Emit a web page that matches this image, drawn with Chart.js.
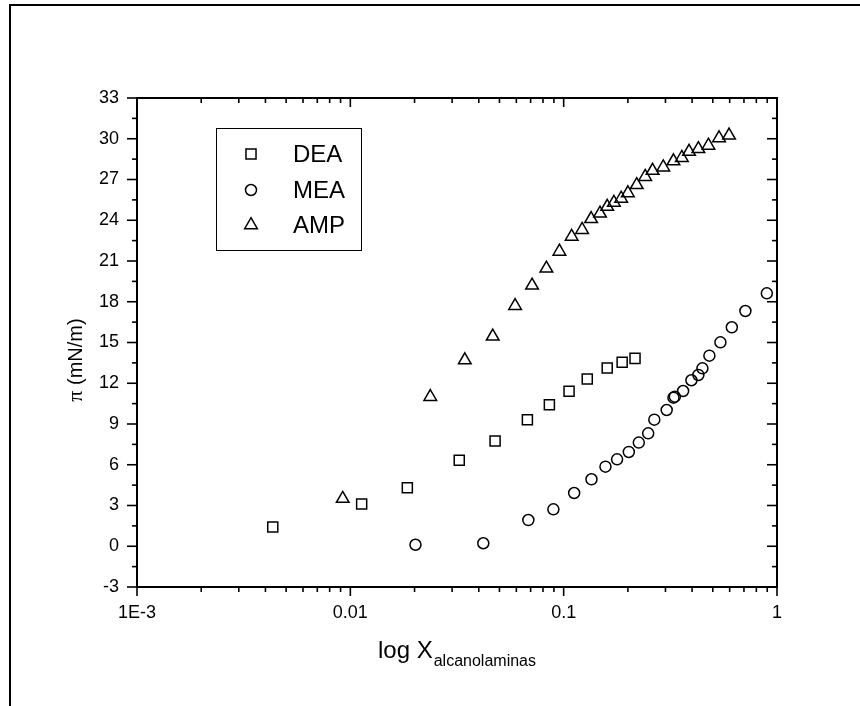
<!DOCTYPE html>
<html>
<head>
<meta charset="utf-8">
<script src="https://cdn.jsdelivr.net/npm/chart.js@4/dist/chart.umd.min.js"></script>
<style>
  html, body { margin: 0; padding: 0; background: #fff; }
  #wrap { width: 860px; height: 706px; position: relative; }
</style>
</head>
<body>
<div id="wrap"><canvas id="c" width="860" height="706"></canvas></div>
<script>
// Surface pressure of alkanolamine solutions vs. mole fraction (log scale)
const seriesNames = ['DEA', 'MEA', 'AMP'];

const deaX = [0.00433, 0.0113, 0.0185, 0.0324, 0.0477, 0.0676, 0.0857, 0.106, 0.129, 0.160, 0.188, 0.216];
const deaY = [1.42, 3.11, 4.31, 6.33, 7.75, 9.32, 10.42, 11.41, 12.31, 13.12, 13.54, 13.83];

const meaX = [0.0202, 0.0420, 0.0683, 0.0895, 0.112, 0.135, 0.157, 0.178, 0.202, 0.225, 0.249, 0.266,
              0.304, 0.327, 0.332, 0.363, 0.397, 0.428, 0.447, 0.482, 0.543, 0.614, 0.711, 0.896];
const meaY = [0.11, 0.22, 1.93, 2.72, 3.92, 4.93, 5.86, 6.40, 6.94, 7.63, 8.31, 9.32,
              10.03, 10.94, 11.01, 11.43, 12.22, 12.61, 13.10, 14.03, 15.01, 16.12, 17.32, 18.62];

const ampX = [0.00921, 0.0237, 0.0344, 0.0465, 0.0592, 0.0711, 0.083, 0.0955, 0.109, 0.122, 0.1345, 0.148,
              0.160, 0.172, 0.186, 0.200, 0.220, 0.241, 0.261, 0.293, 0.327, 0.358, 0.387, 0.428, 0.477, 0.535, 0.596];
const ampY = [3.5, 11.0, 13.7, 15.45, 17.7, 19.2, 20.45, 21.7, 22.8, 23.3, 24.1, 24.5,
              25.0, 25.3, 25.6, 26.0, 26.6, 27.2, 27.65, 27.9, 28.35, 28.6, 29.05, 29.25, 29.5, 30.05, 30.25];

const xDecades = [0.001, 0.01, 0.1, 1];
const xDecadeLabels = ['1E-3', '0.01', '0.1', '1'];
const yMin = -3, yMax = 33, yStep = 3;

const FONT = 'Arial, "Liberation Sans", sans-serif';

function toPoints(xs, ys) { return xs.map((x, i) => ({ x: x, y: ys[i] })); }

const markerStyles = [
  { pointStyle: 'rect', radius: 7.1 },
  { pointStyle: 'circle', radius: 5.5 },
  { pointStyle: 'triangle', radius: 7.3 }
];

function decadeLabel(v) {
  for (let i = 0; i < xDecades.length; i++) {
    if (Math.abs(Math.log10(v) - Math.log10(xDecades[i])) < 1e-9) return xDecadeLabels[i];
  }
  return null;
}

// Frame, mirrored axes, tick marks, legend and axis titles
const decorations = {
  id: 'decorations',
  afterDraw(chart) {
    const ctx = chart.ctx;
    const xs = chart.scales.x, ys = chart.scales.y;
    const a = chart.chartArea;
    ctx.save();
    ctx.strokeStyle = '#000';
    ctx.fillStyle = '#000';
    ctx.lineCap = 'butt';

    // outer frame (left and top edges)
    ctx.lineWidth = 2;
    ctx.beginPath();
    ctx.moveTo(10, 706); ctx.lineTo(10, 5); ctx.lineTo(860, 5);
    ctx.stroke();

    // top and right axis lines
    ctx.beginPath();
    ctx.moveTo(a.left - 1, a.top); ctx.lineTo(a.right, a.top); ctx.lineTo(a.right, a.bottom + 1);
    ctx.stroke();

    ctx.lineWidth = 1.6;
    const seg = (x1, y1, x2, y2) => { ctx.beginPath(); ctx.moveTo(x1, y1); ctx.lineTo(x2, y2); ctx.stroke(); };

    // x ticks: majors at decades, minors at 2..9
    for (let d = -3; d <= 0; d++) {
      const base = Math.pow(10, d);
      const px = xs.getPixelForValue(base);
      seg(px, a.bottom, px, a.bottom + 9);
      seg(px, a.top, px, a.top + 9);
      if (d < 0) {
        for (let m = 2; m <= 9; m++) {
          const p = xs.getPixelForValue(m * base);
          seg(p, a.bottom, p, a.bottom + 5);
          seg(p, a.top, p, a.top + 5);
        }
      }
    }
    // y ticks: majors every 3, minors halfway
    for (let v = yMin; v <= yMax + 1e-9; v += yStep) {
      const py = ys.getPixelForValue(v);
      seg(a.left, py, a.left - 10, py);
      seg(a.right, py, a.right - 10, py);
      if (v < yMax) {
        const pm = ys.getPixelForValue(v + yStep / 2);
        seg(a.left, pm, a.left - 5, pm);
        seg(a.right, pm, a.right - 5, pm);
      }
    }

    // legend
    ctx.lineWidth = 1;
    ctx.strokeRect(216.5, 128.5, 145, 122);
    const rowY = [154, 190, 225];
    seriesNames.forEach((name, i) => {
      ctx.lineWidth = 1.5;
      ctx.strokeStyle = '#000';
      ctx.fillStyle = 'rgba(0,0,0,0)';
      Chart.helpers.drawPoint(ctx, {
        pointStyle: markerStyles[i].pointStyle,
        radius: markerStyles[i].radius,
        rotation: 0,
        borderWidth: 1.5
      }, 251, rowY[i]);
      ctx.fillStyle = '#000';
      ctx.font = '24px ' + FONT;
      ctx.textAlign = 'left';
      ctx.textBaseline = 'middle';
      ctx.fillText(name, 293, rowY[i] + 1);
    });

    // x axis title with subscript
    ctx.fillStyle = '#000';
    ctx.textBaseline = 'alphabetic';
    ctx.font = '24px ' + FONT;
    const mainTxt = 'log X';
    const w1 = ctx.measureText(mainTxt).width;
    ctx.font = '16px ' + FONT;
    const subTxt = 'alcanolaminas';
    const w2 = ctx.measureText(subTxt).width;
    const cx = (a.left + a.right) / 2;
    const startX = cx - (w1 + 1 + w2) / 2;
    ctx.font = '24px ' + FONT;
    ctx.fillText(mainTxt, startX, 658);
    ctx.font = '16px ' + FONT;
    ctx.fillText(subTxt, startX + w1 + 1, 666);

    // y axis title, rotated
    ctx.save();
    ctx.translate(82, 360);
    ctx.rotate(-Math.PI / 2);
    ctx.font = '22px "Liberation Serif", "Times New Roman", serif';
    const piTxt = '\u03C0';
    const wp = ctx.measureText(piTxt).width;
    ctx.font = '20px ' + FONT;
    const unitTxt = ' (mN/m)';
    const wu = ctx.measureText(unitTxt).width;
    let sx = -(wp + wu) / 2;
    ctx.font = '22px "Liberation Serif", "Times New Roman", serif';
    ctx.fillText(piTxt, sx, 0);
    ctx.font = '20px ' + FONT;
    ctx.fillText(unitTxt, sx + wp, 0);
    ctx.restore();

    ctx.restore();
  }
};

const datasets = [
  { label: seriesNames[0], data: toPoints(deaX, deaY) },
  { label: seriesNames[1], data: toPoints(meaX, meaY) },
  { label: seriesNames[2], data: toPoints(ampX, ampY) }
].map((ds, i) => Object.assign(ds, {
  showLine: false,
  pointStyle: markerStyles[i].pointStyle,
  pointRadius: markerStyles[i].radius,
  pointHoverRadius: markerStyles[i].radius,
  pointBorderWidth: 1.5,
  pointBorderColor: '#000',
  pointBackgroundColor: 'rgba(0,0,0,0)'
}));

new Chart(document.getElementById('c'), {
  type: 'scatter',
  data: { datasets: datasets },
  options: {
    responsive: false,
    animation: false,
    devicePixelRatio: 1,
    layout: { padding: { top: 98, right: 83, bottom: 0, left: 0 } },
    plugins: { legend: { display: false }, tooltip: { enabled: false } },
    scales: {
      x: {
        type: 'logarithmic',
        position: 'bottom',
        min: 0.001,
        max: 1,
        grid: { display: false, drawTicks: true, tickLength: 9 },
        border: { display: true, color: '#000', width: 2 },
        ticks: {
          autoSkip: false,
          maxRotation: 0,
          padding: 6,
          color: '#000',
          font: { family: FONT, size: 18 },
          callback: (v) => decadeLabel(v)
        },
        afterFit: (s) => { s.height = 119; }
      },
      y: {
        type: 'linear',
        position: 'left',
        min: yMin,
        max: yMax,
        grid: { display: false, drawTicks: true, tickLength: 10 },
        border: { display: true, color: '#000', width: 2 },
        ticks: {
          stepSize: yStep,
          padding: 8,
          color: '#000',
          font: { family: FONT, size: 18 }
        },
        afterFit: (s) => { s.width = 137; }
      }
    }
  },
  plugins: [decorations]
});
</script>
</body>
</html>
